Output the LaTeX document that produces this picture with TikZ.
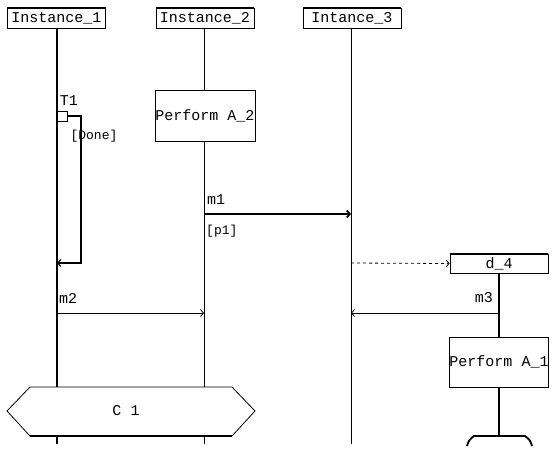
\documentclass[tikz,border=0pt]{standalone}
\usepackage{fontspec}
\setmainfont{Liberation Mono}
\usetikzlibrary{arrows.meta}
\begin{document}
\begin{tikzpicture}[x=1pt,y=-1pt,font=\fontsize{15}{17}\selectfont,
  >={Straight Barb[length=3pt,width=7pt]},
  inst/.style={draw,line width=0.8pt,minimum width=98pt,minimum height=20pt,inner sep=0pt},
  act/.style={draw,fill=white,line width=0.8pt,minimum width=100pt,minimum height=51pt,inner sep=0pt},
  lbl/.style={inner sep=0pt},
  thin/.style={line width=0.8pt}]
\useasboundingbox (0,0) rectangle (556,452);
% instance heads
\node[inst] (i1) at (56.5,18) {Instance\_1};
\node[inst] (i2) at (205,18) {Instance\_2};
\node[inst] (i3) at (352,18) {Intance\_3};
\foreach \n in {i1,i2,i3} \draw[line width=2pt] (\n.north west) -- (\n.north east);
% lifeline end points
\coordinate (l1e) at (57,444);
\coordinate (l2e) at (204,444);
\coordinate (l3e) at (351,444);
\draw[line width=2pt] (i1.south -| l1e) -- (l1e);
\draw[thin] (i2.south -| l2e) -- (l2e);
\draw[thin] (i3.south -| l3e) -- (l3e);
% timer
\node[draw,fill=white,line width=1pt,minimum size=10pt,inner sep=0pt] (tsq) at (62,116) {};
\node[lbl] (t1) at (69,101) {T1};
\coordinate (tend) at (57,263);
\draw[line width=1.1pt,->] (tsq.east) -- (81,116) |- (tend);
\node[lbl,font=\fontsize{13}{15}\selectfont] (done) at (94,136) {[Done]};
% action on instance 2
\node[act,minimum width=100pt] (pa2) at (205,115.5) {Perform A\_2};
% m1
\coordinate (m1s) at (204,214);
\coordinate (m1e) at (351,214);
\draw[line width=1.8pt,->] (m1s) -- (m1e);
\node[lbl,anchor=west] (m1) at (207,200) {m1};
\node[lbl,anchor=west,font=\fontsize{13}{15}\selectfont] (p1) at (206,231) {[p1]};
% create d_4
\node[inst,minimum width=98pt,minimum height=19pt] (d4) at (499,263.5) {d\_4};
\draw[line width=2pt] (d4.north west) -- (d4.north east);
\coordinate (d4s) at (351,263);
\draw[thin,dashed,->] (d4s) -- (d4.west);
\coordinate (d4e) at (499,436);
\draw[line width=2pt] (d4.south) -- (d4e);
% m2, m3
\coordinate (m2s) at (57,313);
\coordinate (m2e) at (204,313);
\draw[thin,->] (m2s) -- (m2e);
\node[lbl,anchor=west] (m2) at (59,298) {m2};
\coordinate (m3s) at (499,313);
\coordinate (m3e) at (351,313);
\draw[thin,->] (m3s) -- (m3e);
\node[lbl,anchor=east] (m3) at (493,298) {m3};
% action on d_4
\node[act,minimum width=98pt,minimum height=50pt] (pa1) at (499,362) {Perform A\_1};
% condition C 1
\draw[thin,fill=white] (7,411) -- (30,387) -- (232,387) -- (255,411) -- (232,436) -- (30,436) -- cycle;
\draw[line width=1.8pt] (30,436) -- (232,436);
\node[lbl] (c1) at (126,411) {C 1};
% truncated shape at the bottom of d_4
\draw[line width=1.8pt] (467,446) .. controls (469,440) .. (474,436) -- (525,436) .. controls (530,440) .. (532,446);
\end{tikzpicture}
\end{document}
